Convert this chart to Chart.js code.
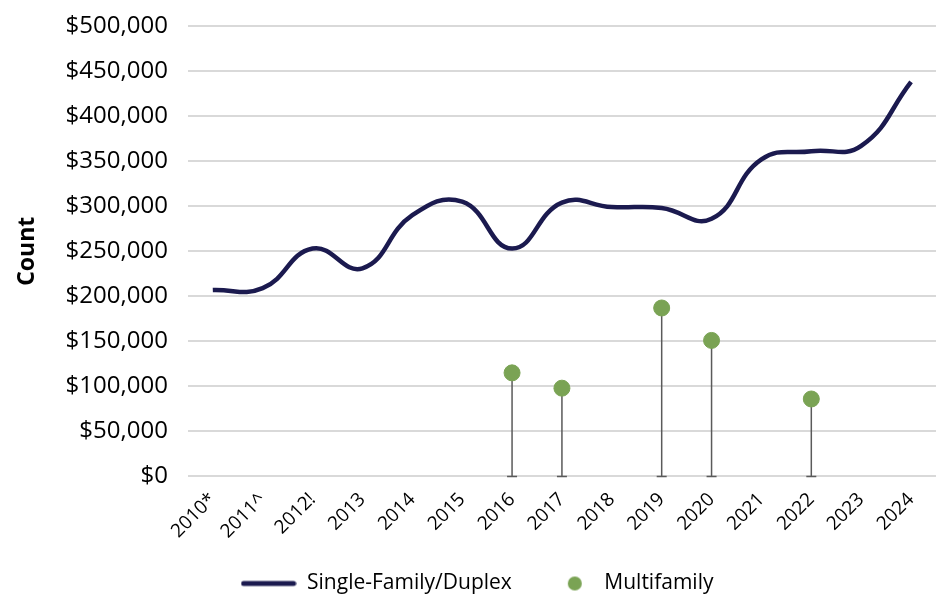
<!DOCTYPE html>
<html>
<head>
<meta charset="utf-8">
<script src="https://cdn.jsdelivr.net/npm/chart.js@4.4.1/dist/chart.umd.min.js"></script>
<style>
  html, body { margin: 0; padding: 0; background: #fff; }
  #wrap { width: 945px; height: 597px; }
</style>
</head>
<body>
<div id="wrap"><canvas id="valueChart"></canvas></div>
<script>
const years = ['2010*', '2011^', '2012!', '2013', '2014', '2015', '2016', '2017', '2018', '2019', '2020', '2021', '2022', '2023', '2024'];
const singleFamily = [207000, 209000, 253000, 231000, 290000, 305000, 253000, 304000, 299000, 298000, 286000, 352000, 361000, 367000, 438000];
const multifamily = [null, null, null, null, null, null, 115000, 98000, null, 187000, 151000, null, 86000, null, null];
const yTicks = [0, 50000, 100000, 150000, 200000, 250000, 300000, 350000, 400000, 450000, 500000];

const navy = '#1b1a4f';
const green = '#7aa354';

// legend samples
function lineSample() {
  const c = document.createElement('canvas');
  c.width = 56; c.height = 8;
  const g = c.getContext('2d');
  g.strokeStyle = navy; g.lineWidth = 5; g.lineCap = 'round';
  g.beginPath(); g.moveTo(3, 4); g.lineTo(53, 4); g.stroke();
  return c;
}
function dotSample() {
  const c = document.createElement('canvas');
  c.width = 56; c.height = 16;
  const g = c.getContext('2d');
  g.fillStyle = green;
  g.beginPath(); g.arc(37, 8, 7, 0, Math.PI * 2); g.fill();
  return c;
}
const legendSamples = [lineSample(), dotSample()];

const dropLines = {
  id: 'dropLines',
  beforeDatasetsDraw(chart) {
    const { ctx, scales: { x, y } } = chart;
    ctx.save();
    ctx.strokeStyle = '#5a5a5a';
    ctx.lineWidth = 1.5;
    multifamily.forEach((v, i) => {
      if (v == null) return;
      const px = x.getPixelForValue(i);
      const top = y.getPixelForValue(v);
      const bottom = y.getPixelForValue(0);
      ctx.beginPath();
      ctx.moveTo(px, top);
      ctx.lineTo(px, bottom);
      ctx.moveTo(px - 5, bottom);
      ctx.lineTo(px + 5, bottom);
      ctx.stroke();
    });
    ctx.restore();
  }
};

const ctx = document.getElementById('valueChart').getContext('2d');

new Chart(ctx, {
  type: 'line',
  data: {
    labels: years,
    datasets: [
      {
        label: 'Single-Family/Duplex',
        data: singleFamily,
        borderColor: navy,
        borderWidth: 4.5,
        tension: 0.45,
        pointRadius: 0,
        fill: false
      },
      {
        label: 'Multifamily',
        data: multifamily,
        showLine: false,
        pointStyle: 'circle',
        pointRadius: 8,
        pointBackgroundColor: green,
        pointBorderColor: green
      }
    ]
  },
  plugins: [dropLines],
  options: {
    responsive: true,
    maintainAspectRatio: false,
    animation: false,
    layout: { padding: { top: 26, right: 5, left: 14, bottom: -7 } },
    scales: {
      x: {
        offset: true,
        grid: { display: false },
        border: { display: false },
        ticks: {
          color: '#000',
          font: { family: 'Open Sans', size: 19 },
          maxRotation: 45,
          minRotation: 45,
          autoSkip: false,
          padding: 4
        }
      },
      y: {
        min: 0,
        max: 500000,
        afterBuildTicks(axis) { axis.ticks = yTicks.map(v => ({ value: v })); },
        afterFit(axis) { axis.paddingTop = 0; },
        grid: { color: '#d9d9d9', lineWidth: 2, drawTicks: false },
        border: { display: false },
        ticks: {
          color: '#000',
          padding: 20,
          font: { family: 'Open Sans', size: 24 },
          callback: v => '$' + v.toLocaleString('en-US')
        },
        title: {
          display: true,
          text: 'Count',
          color: '#000',
          font: { family: 'Open Sans', size: 23, weight: 'bold' },
          padding: { top: 0, bottom: 4 }
        }
      }
    },
    plugins: {
      legend: {
        position: 'bottom',
        labels: {
          color: '#000',
          font: { family: 'Open Sans', size: 21 },
          usePointStyle: true,
          pointStyleWidth: 56,
          padding: 26,
          generateLabels(chart) {
            return chart.data.datasets.map((ds, i) => ({
              text: ds.label,
              pointStyle: legendSamples[i],
              fillStyle: 'transparent',
              strokeStyle: 'transparent',
              lineWidth: 0,
              datasetIndex: i,
              hidden: false
            }));
          }
        }
      },
      tooltip: { enabled: false }
    }
  }
});
</script>
</body>
</html>
